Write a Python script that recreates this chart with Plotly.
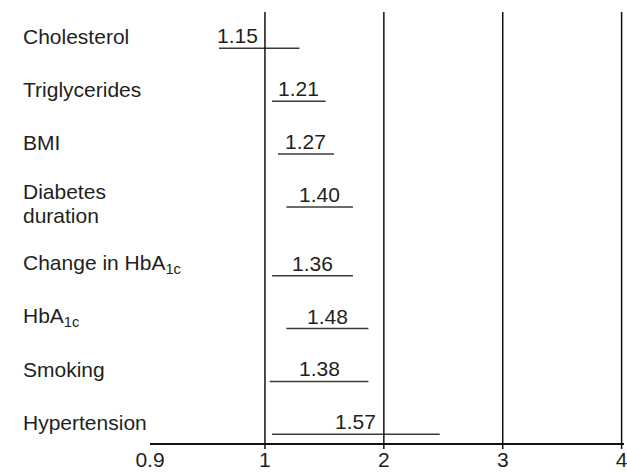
import plotly.graph_objects as go

# ---- data ----
categories = ["Cholesterol", "Triglycerides", "BMI", "Diabetes duration",
              "Change in HbA1c", "HbA1c", "Smoking", "Hypertension"]
labels = ["Cholesterol", "Triglycerides", "BMI", "Diabetes<br>duration",
          "Change in HbA<sub>1c</sub>", "HbA<sub>1c</sub>", "Smoking", "Hypertension"]
estimates = [1.15, 1.21, 1.27, 1.40, 1.36, 1.48, 1.38, 1.57]
ci_low = [0.96, 1.06, 1.11, 1.18, 1.06, 1.18, 1.04, 1.06]
ci_high = [1.29, 1.51, 1.58, 1.74, 1.74, 1.87, 1.87, 2.47]
tick_values = [0.9, 1, 2, 3, 4]
tick_labels = ["0.9", "1", "2", "3", "4"]
ref_lines = [1, 2, 3, 4]

LOW_STRETCH = 9.67   # axis segment below 1 is stretched
EXTRA_GAP = 0.3      # extra row spacing after a two-line label


def disp(v):
    return v if v >= 1 else 1 - (1 - v) * LOW_STRETCH


# row positions (top to bottom) derived from label line counts
rows = []
pos = 0.0
for lab in labels:
    rows.append(pos)
    pos += 1 + (EXTRA_GAP if "<br>" in lab else 0)

FONT = "Liberation Sans, Arial, sans-serif"
TXT = "#231f20"
FS = 21

fig = go.Figure()

xs, ys = [], []
for r, lo, hi in zip(rows, ci_low, ci_high):
    xs += [disp(lo), disp(hi), None]
    ys += [r, r, None]
fig.add_trace(go.Scatter(x=xs, y=ys, mode="lines",
                         line=dict(color="#3a3a3a", width=1.5),
                         hoverinfo="skip", showlegend=False))

annotations = []
for r, lab, est, lo, hi in zip(rows, labels, estimates, ci_low, ci_high):
    parts = lab.split("<br>")
    first_shift = 12 if len(parts) == 1 else 15
    for k, part in enumerate(parts):
        annotations.append(dict(
            x=-0.272, xref="paper", y=r, yref="y", text=part, showarrow=False,
            xanchor="left", yanchor="middle", align="left",
            yshift=first_shift - 24 * k,
            font=dict(family=FONT, size=FS, color=TXT)))
    if disp(lo) < 1 < disp(hi) and (disp(lo) + disp(hi)) / 2 < 1.3:
        ax, anc, xs_ = 1, "right", -5
    else:
        ax, anc, xs_ = (disp(lo) + disp(hi)) / 2, "center", 0
    annotations.append(dict(
        x=ax, xref="x", y=r, yref="y", text=f"{est:.2f}", showarrow=False,
        xanchor=anc, yanchor="bottom", xshift=xs_, yshift=-1,
        font=dict(family=FONT, size=FS, color=TXT)))

shapes = []
for rl in ref_lines:
    shapes.append(dict(type="line", xref="x", yref="paper",
                       x0=disp(rl), x1=disp(rl), y0=-0.014, y1=1,
                       line=dict(color="#111", width=1.5)))

last = rows[-1]
unit = 386 / last
fig.update_layout(
    width=627, height=472,
    margin=dict(l=150, r=3, t=12, b=29),
    paper_bgcolor="white", plot_bgcolor="white",
    annotations=annotations, shapes=shapes,
    xaxis=dict(range=[disp(0.9), 4.02], tickvals=[disp(v) for v in tick_values],
               ticktext=tick_labels, showgrid=False, zeroline=False,
               showline=True, linecolor="#111", linewidth=1.5,
               ticks="", ticklabelstandoff=-3, ticklabeloverflow="allow",
               tickfont=dict(family=FONT, size=FS, color=TXT),
               automargin=False),
    yaxis=dict(range=[last + 8.7 / unit, -36.3 / unit], showticklabels=False,
               showgrid=False, zeroline=False, showline=False, ticks=""),
)

fig.write_html("out.html", config={"displayModeBar": False},
               post_script="document.body.style.margin='0';"
                           "document.body.style.overflow='hidden';")
